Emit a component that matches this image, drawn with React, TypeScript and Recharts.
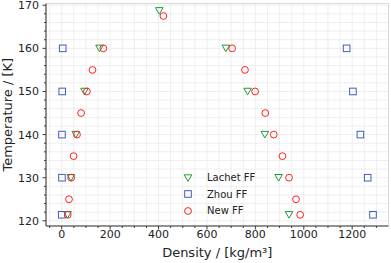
import { ScatterChart, Scatter, XAxis, YAxis, CartesianGrid, Legend } from 'recharts';

const FONT = '"DejaVu Sans", sans-serif';
const GREEN = '#1f9a3c';
const BLUE = '#3f5fb8';
const RED = '#ff2020';
const FRAME = '#3a3a3a';

// Lachet FF
const lachetVaporT = [168.7, 160, 150, 140, 130, 121.4];
const lachetVapor = [403, 156, 94, 58, 38, 24];
const lachetLiquidT = [160, 150, 140, 130, 121.4];
const lachetLiquid = [678, 768, 839, 896, 939];

// Zhou FF
const zhouT = [160, 150, 140, 130, 121.4];
const zhouVapor = [4, 2, 1, 1, 0];
const zhouLiquid = [1177, 1203, 1234, 1264, 1286];

// New FF
const newVaporT = [167.5, 160, 155, 150, 145, 140, 135, 130, 125, 121.4];
const newVapor = [420, 172, 127, 104, 80, 63, 49, 39, 30, 25];
const newLiquidT = [160, 155, 150, 145, 140, 135, 130, 125, 121.4];
const newLiquid = [704, 757, 799, 841, 876, 912, 939, 968, 985];

const xDomain = [-65, 1350];
const yDomain = [118.8, 170.4];
const xMajorTicks = [0, 200, 400, 600, 800, 1000, 1200];
const xAllTicks = [-50, 0, 50, 100, 150, 200, 250, 300, 350, 400, 450, 500, 550, 600, 650, 700, 750, 800, 850, 900, 950, 1000, 1050, 1100, 1150, 1200, 1250, 1300];
const yMajorTicks = [120, 130, 140, 150, 160, 170];
const yAllTicks = [120, 122, 124, 126, 128, 130, 132, 134, 136, 138, 140, 142, 144, 146, 148, 150, 152, 154, 156, 158, 160, 162, 164, 166, 168, 170];

const pts = (xs: number[], ts: number[]) => xs.map((x, i) => ({ x, y: ts[i] }));

const lachetData = [...pts(lachetVapor, lachetVaporT), ...pts(lachetLiquid, lachetLiquidT)];
const zhouData = [...pts(zhouVapor, zhouT), ...pts(zhouLiquid, zhouT)];
const newData = [...pts(newVapor, newVaporT), ...pts(newLiquid, newLiquidT)];

const triangle = (cx: number, cy: number) => (
  <path d={`M${cx - 3.8},${cy - 3.2}L${cx + 3.8},${cy - 3.2}L${cx},${cy + 3.4}Z`} fill="none" stroke={GREEN} strokeWidth={1} />
);
const square = (cx: number, cy: number) => (
  <rect x={cx - 3.3} y={cy - 3.3} width={6.6} height={6.6} fill="none" stroke={BLUE} strokeWidth={1} />
);
const circle = (cx: number, cy: number) => (
  <circle cx={cx} cy={cy} r={3.4} fill="none" stroke={RED} strokeWidth={1} />
);

const series = [
  { name: 'Lachet FF', data: lachetData, marker: triangle },
  { name: 'Zhou FF', data: zhouData, marker: square },
  { name: 'New FF', data: newData, marker: circle },
];

const XTick = ({ x, y, payload }: any) => {
  const major = xMajorTicks.includes(payload.value);
  return (
    <g>
      <line x1={x} x2={x} y1={y} y2={y + (major ? 3.5 : 2)} stroke={FRAME} />
      {major && (
        <text x={x} y={y + 12} textAnchor="middle" fontSize={11} fontFamily={FONT} fill="#222">
          {payload.value}
        </text>
      )}
    </g>
  );
};

const YTick = ({ x, y, payload }: any) => {
  const major = yMajorTicks.includes(payload.value);
  return (
    <g>
      <line x1={x} x2={x - (major ? 3.5 : 2)} y1={y} y2={y} stroke={FRAME} />
      {major && (
        <text x={x - 7} y={y + 4} textAnchor="end" fontSize={11} fontFamily={FONT} fill="#222">
          {payload.value}
        </text>
      )}
    </g>
  );
};

const xLabel = ({ viewBox }: any) => (
  <text x={viewBox.x + viewBox.width / 2} y={viewBox.y + 31} textAnchor="middle" fontSize={13} fontFamily={FONT} fill="#222">
    Density / [kg/m³]
  </text>
);

const yLabel = ({ viewBox }: any) => (
  <text
    transform={`translate(12, ${viewBox.y + viewBox.height / 2}) rotate(-90)`}
    textAnchor="middle"
    fontSize={13}
    fontFamily={FONT}
    fill="#222"
  >
    Temperature / [K]
  </text>
);

const renderLegend = () => (
  <div style={{ fontFamily: FONT, fontSize: 10, color: '#222' }}>
    {series.map((s) => (
      <div key={s.name} style={{ display: 'flex', alignItems: 'center', height: 16.5 }}>
        <svg width={14} height={14}>{s.marker(7, 7)}</svg>
        <span style={{ marginLeft: 12 }}>{s.name}</span>
      </div>
    ))}
  </div>
);

export default function App() {
  return (
    <div style={{ position: 'absolute', left: 0, top: 0, background: '#fff' }}>
      <ScatterChart width={391} height={263} margin={{ top: 3.5, right: 2.5, bottom: 0, left: 0 }}>
        <CartesianGrid stroke="#eeeeee" />
        <CartesianGrid xAxisId="major" yAxisId="major" stroke="#d9d9d9" />
        <XAxis
          type="number"
          dataKey="x"
          domain={xDomain}
          ticks={xAllTicks}
          interval={0}
          allowDataOverflow
          height={37}
          tickSize={0}
          tickMargin={0}
          tickLine={false}
          tick={<XTick />}
          axisLine={{ stroke: FRAME }}
          label={{ content: xLabel }}
        />
        <YAxis
          type="number"
          dataKey="y"
          domain={yDomain}
          ticks={yAllTicks}
          interval={0}
          allowDataOverflow
          width={46}
          tickSize={0}
          tickMargin={0}
          tickLine={false}
          tick={<YTick />}
          axisLine={{ stroke: FRAME }}
          label={{ content: yLabel }}
        />
        <XAxis
          xAxisId="major"
          orientation="top"
          type="number"
          domain={xDomain}
          ticks={xMajorTicks}
          interval={0}
          allowDataOverflow
          height={0}
          tick={false}
          tickLine={false}
          axisLine={{ stroke: FRAME }}
        />
        <YAxis
          yAxisId="major"
          orientation="right"
          type="number"
          domain={yDomain}
          ticks={yMajorTicks}
          interval={0}
          allowDataOverflow
          width={0}
          tick={false}
          tickLine={false}
          axisLine={{ stroke: FRAME }}
        />
        {series.map((s) => (
          <Scatter
            key={s.name}
            name={s.name}
            data={s.data}
            isAnimationActive={false}
            shape={(p: any) => s.marker(p.cx, p.cy)}
          />
        ))}
        <Legend
          layout="vertical"
          align="center"
          verticalAlign="middle"
          content={renderLegend}
          wrapperStyle={{ left: 181, top: 169.5, width: 'auto' }}
        />
      </ScatterChart>
    </div>
  );
}
